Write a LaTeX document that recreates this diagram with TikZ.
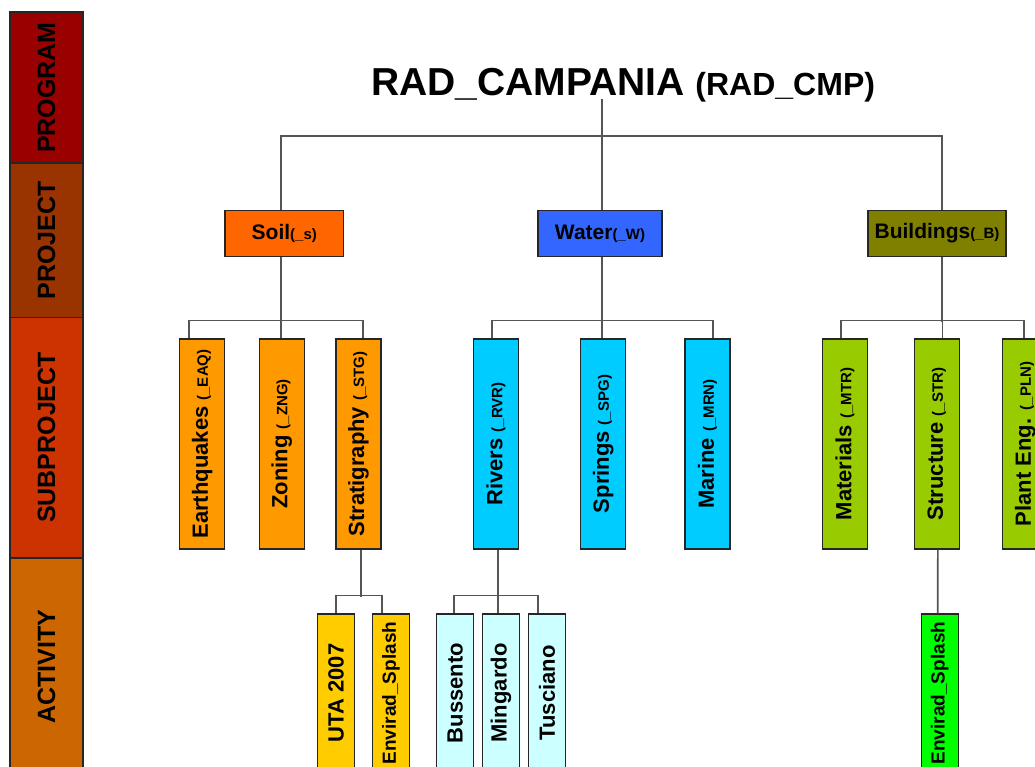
\documentclass[tikz,border=0pt]{standalone}
\usepackage{graphicx}
\usepackage{fontspec}
\setmainfont{Liberation Sans}
\definecolor{bandA}{HTML}{990000}
\definecolor{bandB}{HTML}{993300}
\definecolor{bandC}{HTML}{CC3300}
\definecolor{bandD}{HTML}{CC6600}
\definecolor{cSoil}{HTML}{FF6600}
\definecolor{cWater}{HTML}{3366FF}
\definecolor{cBld}{HTML}{808000}
\definecolor{sSoil}{HTML}{FF9900}
\definecolor{sWater}{HTML}{00CCFF}
\definecolor{sBld}{HTML}{99CC00}
\definecolor{aSoil}{HTML}{FFCC00}
\definecolor{aWater}{HTML}{CCFFFF}
\definecolor{aBld}{HTML}{00FF00}
\definecolor{lineC}{HTML}{555555}
\newcommand{\fs}[1]{\fontsize{#1}{#1}\selectfont}
\newcommand{\rt}[1]{\rotatebox{90}{#1}}
\tikzset{
  box/.style={draw=black!85, line width=1.1pt, inner sep=0pt, font=\bfseries},
  band/.style={box, minimum width=73pt},
  proj/.style={box, minimum height=46pt},
  sub/.style={box, minimum width=45pt, minimum height=210pt},
  act/.style={box, minimum width=37pt, minimum height=158pt},
  conn/.style={draw=lineC, line width=1.6pt},
}
\begin{document}
\begin{tikzpicture}[x=1pt,y=-1pt]
\useasboundingbox (0,0) rectangle (1035,767);
\fill[white] (0,0) rectangle (1035,767);
\clip (0,0) rectangle (1035,767);

% level bands
\node[band, fill=bandA, minimum height=151pt] (bprog) at (46.5,87.5) {\rt{\fs{25}PROGRAM}};
\node[band, fill=bandB, minimum height=154pt] (bproj) at (46.5,240.5) {\rt{\fs{25}PROJECT}};
\node[band, fill=bandC, minimum height=240pt] (bsub) at (46.5,437.5) {\rt{\fs{25}SUBPROJECT}};
\node[band, fill=bandD, minimum height=217pt] (bact) at (46.5,666.5) {\rt{\fs{25}ACTIVITY}};

% title
\node[anchor=base west, inner sep=0pt, font=\bfseries] (title) at (371,96)
  {\fs{39}RAD\_CAMPANIA {\fs{32}(RAD\_CMP)}};

% projects
\node[proj, fill=cSoil, minimum width=118.5pt] (soil) at (284.25,233.5) {\fs{21}Soil{\fs{15}(\_s)}};
\node[proj, fill=cWater, minimum width=124pt] (water) at (600,233.5) {\fs{21}Water{\fs{15}(\_W)}};
\node[proj, fill=cBld, minimum width=138pt] (bld) at (937,233.5) {\fs{21}Buildings{\fs{15}(\_B)}};

% subprojects
\node[sub, fill=sSoil] (eaq) at (202.15,444) {\rt{\fs{22}Earthquakes {\fs{15}(\_EAQ)}}};
\node[sub, fill=sSoil] (zng) at (281.8,444) {\rt{\fs{22}Zoning {\fs{15}(\_ZNG)}}};
\node[sub, fill=sSoil] (stg) at (358.5,444) {\rt{\fs{22}Stratigraphy {\fs{15}(\_STG)}}};
\node[sub, fill=sWater] (rvr) at (496,444) {\rt{\fs{22}Rivers {\fs{15}(\_RVR)}}};
\node[sub, fill=sWater] (spg) at (603.2,444) {\rt{\fs{22}Springs {\fs{15}(\_SPG)}}};
\node[sub, fill=sWater] (mrn) at (707.5,444) {\rt{\fs{22}Marine {\fs{15}(\_MRN)}}};
\node[sub, fill=sBld] (mtr) at (845,444) {\rt{\fs{22}Materials {\fs{15}(\_MTR)}}};
\node[sub, fill=sBld] (str) at (936.8,444) {\rt{\fs{22}Structure {\fs{15}(\_STR)}}};
\node[sub, fill=sBld] (pln) at (1025.2,444) {\rt{\fs{22}Plant Eng. {\fs{15}(\_PLN)}}};

% activities
\node[act, fill=aSoil] (uta) at (336,693) {\rt{\fs{22}UTA 2007}};
\node[act, fill=aSoil] (envA) at (391,693) {\rt{\fs{19}Envirad\_Splash}};
\node[act, fill=aWater] (bus) at (455.2,693) {\rt{\fs{22}Bussento}};
\node[act, fill=aWater] (mng) at (501,693) {\rt{\fs{22}Mingardo}};
\node[act, fill=aWater] (tus) at (547,693) {\rt{\fs{22}Tusciano}};
\node[act, fill=aBld] (envB) at (939.7,693) {\rt{\fs{19}Envirad\_Splash}};

% program -> projects
\draw[conn] ([xshift=2pt]water.north) -- ++(0,-110.5);
\draw[conn] ([xshift=-3.25pt]soil.north) -- ++(0,-74) -| ([xshift=5pt]bld.north);
\draw[conn] ([xshift=2pt]water.north) -- ++(0,-74);

% projects -> subprojects
\draw[conn] ([xshift=-3.25pt]soil.south) -- ++(0,64.5);
\draw[conn] ([xshift=-13.15pt]eaq.north) -- ++(0,-18) -| ([xshift=4.5pt]stg.north);
\draw[conn] ([xshift=-0.8pt]zng.north) -- ++(0,-18);

\draw[conn] ([xshift=2pt]water.south) -- ++(0,64.5);
\draw[conn] ([xshift=-4.3pt]rvr.north) -- ++(0,-18) -| ([xshift=5.2pt]mrn.north);
\draw[conn] ([xshift=-1.2pt]spg.north) -- ++(0,-18);

\draw[conn] ([xshift=5pt]bld.south) -- ++(0,64.5);
\draw[conn] ([xshift=-4pt]mtr.north) -- ++(0,-18) -| ([xshift=-1pt]pln.north);
\draw[conn] ([xshift=5.5pt]str.north) -- ++(0,-18);

% subprojects -> activities
\draw[conn] ([xshift=2.2pt]stg.south) -- ++(0,47);
\draw[conn] ([xshift=-0.3pt]uta.north) -- ++(0,-18) -| ([xshift=-9pt]envA.north);

\draw[conn] ([xshift=2pt]rvr.south) -- ++(0,47);
\draw[conn] ([xshift=-1.2pt]bus.north) -- ++(0,-18) -| ([xshift=-9pt]tus.north);
\draw[conn] ([xshift=-3pt]mng.north) -- ++(0,-18);

\draw[conn] ([xshift=1pt]str.south) -- ([xshift=-2pt]envB.north);
\end{tikzpicture}
\end{document}
